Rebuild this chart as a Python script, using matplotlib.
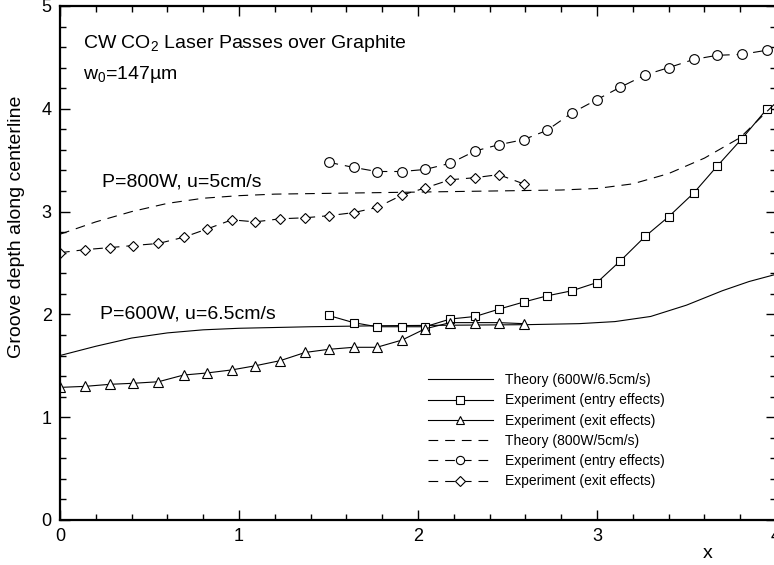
import matplotlib
matplotlib.use("Agg")
import matplotlib.pyplot as plt
from matplotlib.ticker import MultipleLocator

plt.rcParams['font.family'] = ['Liberation Sans', 'DejaVu Sans']
plt.rcParams['mathtext.fontset'] = 'custom'
plt.rcParams['mathtext.rm'] = 'Liberation Sans'
plt.rcParams['mathtext.it'] = 'Liberation Sans'
plt.rcParams['lines.scale_dashes'] = False

# Theory curves
x_theory_600 = [0.0, 0.2, 0.4, 0.6, 0.8, 1.0, 1.4, 1.8, 2.2, 2.6, 2.9, 3.1, 3.3, 3.5, 3.7, 3.85, 4.0]
y_theory_600 = [1.60, 1.69, 1.77, 1.82, 1.85, 1.865, 1.88, 1.89, 1.895, 1.90, 1.91, 1.93, 1.98, 2.09, 2.23, 2.32, 2.39]

x_theory_800 = [0.0, 0.2, 0.4, 0.6, 0.8, 1.0, 1.2, 1.6, 2.0, 2.4, 2.8, 3.0, 3.2, 3.4, 3.6, 3.8, 4.0]
y_theory_800 = [2.78, 2.90, 3.00, 3.08, 3.13, 3.155, 3.17, 3.18, 3.19, 3.20, 3.21, 3.225, 3.27, 3.37, 3.52, 3.72, 4.06]

# Experiments, 600W / 6.5cm/s
x_entry_600 = [1.5, 1.64, 1.77, 1.91, 2.04, 2.18, 2.32, 2.45, 2.59, 2.72, 2.86, 3.0, 3.13, 3.27, 3.4, 3.54, 3.67, 3.81, 3.95]
y_entry_600 = [1.99, 1.92, 1.88, 1.88, 1.88, 1.955, 1.98, 2.05, 2.12, 2.18, 2.23, 2.31, 2.52, 2.76, 2.95, 3.18, 3.44, 3.71, 4.00]

x_exit_600 = [0.0, 0.14, 0.28, 0.41, 0.55, 0.69, 0.82, 0.96, 1.09, 1.23, 1.37, 1.5, 1.64, 1.77, 1.91, 2.04, 2.18, 2.32, 2.45, 2.59]
y_exit_600 = [1.29, 1.30, 1.32, 1.33, 1.345, 1.41, 1.43, 1.46, 1.50, 1.55, 1.63, 1.66, 1.68, 1.68, 1.75, 1.86, 1.92, 1.92, 1.92, 1.91]

# Experiments, 800W / 5cm/s
x_entry_800 = [1.5, 1.64, 1.77, 1.91, 2.04, 2.18, 2.32, 2.45, 2.59, 2.72, 2.86, 3.0, 3.13, 3.27, 3.4, 3.54, 3.67, 3.81, 3.95]
y_entry_800 = [3.48, 3.43, 3.39, 3.39, 3.41, 3.47, 3.59, 3.65, 3.70, 3.79, 3.96, 4.09, 4.21, 4.33, 4.40, 4.48, 4.52, 4.53, 4.57]

x_exit_800 = [0.0, 0.14, 0.28, 0.41, 0.55, 0.69, 0.82, 0.96, 1.09, 1.23, 1.37, 1.5, 1.64, 1.77, 1.91, 2.04, 2.18, 2.32, 2.45, 2.59]
y_exit_800 = [2.60, 2.63, 2.65, 2.67, 2.69, 2.75, 2.83, 2.92, 2.90, 2.93, 2.94, 2.96, 2.99, 3.04, 3.16, 3.23, 3.31, 3.33, 3.36, 3.27]

fig = plt.figure(figsize=(7.74, 5.65), dpi=100)
ax = fig.add_axes([60 / 774, 45 / 565, 716 / 774, 514 / 565])

dash = (0, (7, 5))
mk = dict(markerfacecolor='white', markeredgecolor='black', markeredgewidth=0.8)

ax.plot(x_theory_600, y_theory_600, color='black', lw=0.8, label='Theory (600W/6.5cm/s)')
ax.plot(x_entry_600, y_entry_600, color='black', lw=0.8, marker='s', markersize=6,
        label='Experiment (entry effects)', **mk)
ax.plot(x_exit_600, y_exit_600, color='black', lw=0.8, marker='^', markersize=7,
        label='Experiment (exit effects)', **mk)
ax.plot(x_theory_800, y_theory_800, color='black', lw=0.8, linestyle=dash,
        label='Theory (800W/5cm/s)')
ax.plot(x_entry_800, y_entry_800, color='black', lw=0.8, linestyle=dash, marker='o',
        markersize=7, label='Experiment (entry effects)', **mk)
ax.plot(x_exit_800, y_exit_800, color='black', lw=0.8, linestyle=dash, marker='D',
        markersize=5.5, label='Experiment (exit effects)', **mk)

ax.set_xlim(0, 4)
ax.set_ylim(0, 5)
ax.xaxis.set_major_locator(MultipleLocator(1))
ax.xaxis.set_minor_locator(MultipleLocator(0.2))
ax.yaxis.set_major_locator(MultipleLocator(1))
ax.yaxis.set_minor_locator(MultipleLocator(0.2))
ax.tick_params(which='both', direction='in', top=True, right=True, width=1.0, labelsize=13)
ax.tick_params(which='major', length=7.5, pad=6)
ax.tick_params(which='minor', length=4)
for s in ax.spines.values():
    s.set_linewidth(1.6)

ax.text(0.128, 4.64, 'CW CO$_2$ Laser Passes over Graphite', fontsize=14, va='center')
ax.text(0.128, 4.33, 'w$_0$=147\u00b5m', fontsize=14, va='center')
ax.text(0.235, 3.29, 'P=800W, u=5cm/s', fontsize=14, va='center')
ax.text(0.223, 2.00, 'P=600W, u=6.5cm/s', fontsize=14, va='center')

fig.text(17 / 774, 1 - 227 / 565, 'Groove depth along centerline', rotation=90,
         fontsize=14, ha='center', va='center')
fig.text(708 / 774, 1 - 553 / 565, 'x', fontsize=14, ha='center', va='center')

ax.legend(loc='upper left', bbox_to_anchor=(0.496, 0.31), frameon=False, fontsize=10,
          handlelength=4.7, handletextpad=0.85, labelspacing=0.45, markerscale=0.85,
          borderpad=0.4)

plt.savefig('out.png', dpi=100)
